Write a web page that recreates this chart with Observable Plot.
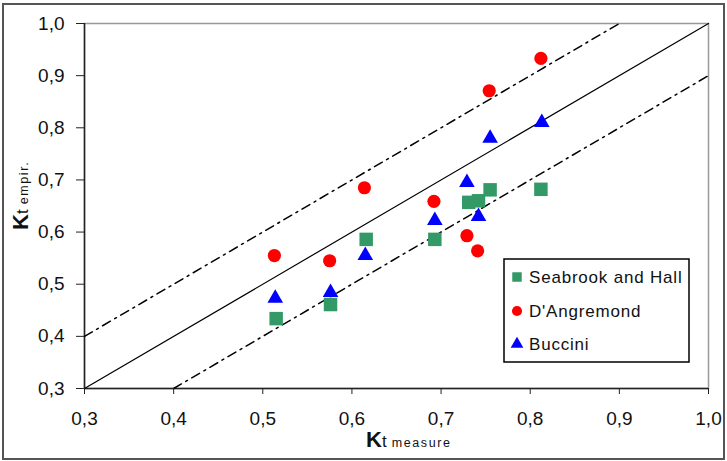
<!DOCTYPE html>
<html><head><meta charset="utf-8">
<script src="https://cdn.jsdelivr.net/npm/d3@7"></script>
<script src="https://cdn.jsdelivr.net/npm/@observablehq/plot@0.6"></script>
<style>
body{margin:0;background:#fff;}
#wrap{position:relative;width:727px;height:461px;overflow:hidden;}
#border{position:absolute;left:2px;top:3px;width:719px;height:453px;border:2px solid #555;pointer-events:none;}
</style></head><body>
<div id="wrap"><div id="chart"></div><div id="border"></div></div>
<script>
// Series data (Kt measure, Kt empir.)
const seabrookX = [0.515, 0.576, 0.616, 0.693, 0.731, 0.742, 0.755, 0.812];
const seabrookY = [0.434, 0.461, 0.586, 0.586, 0.657, 0.660, 0.681, 0.682];
const angremondX = [0.513, 0.575, 0.614, 0.692, 0.729, 0.741, 0.754, 0.812];
const angremondY = [0.555, 0.545, 0.685, 0.659, 0.593, 0.564, 0.871, 0.933];
const bucciniX = [0.514, 0.576, 0.615, 0.693, 0.729, 0.742, 0.755, 0.813];
const bucciniY = [0.473, 0.484, 0.555, 0.622, 0.695, 0.630, 0.780, 0.810];
const seriesNames = ["Seabrook and Hall", "D'Angremond", "Buccini"];
const seriesColors = ["#339966", "#ff0000", "#0000ff"];
const seriesSymbols = ["square", "circle", "triangle"];
const seriesSizes = [7.6, 6.6, 5.8];
// Reference lines: perfect agreement and +/- 0.1 band
const lineEqualX = [0.3, 1.0], lineEqualY = [0.3, 1.0];
const lineUpperX = [0.3, 0.9], lineUpperY = [0.4, 1.0];
const lineLowerX = [0.4, 1.0], lineLowerY = [0.3, 0.9];
const xTicks = [0.3, 0.4, 0.5, 0.6, 0.7, 0.8, 0.9, 1.0];
const yTicks = [0.3, 0.4, 0.5, 0.6, 0.7, 0.8, 0.9, 1.0];

const fmt = d => d.toFixed(1).replace(".", ",");
const pts = (xs, ys) => xs.map((x, i) => ({x, y: ys[i]}));
const series = [pts(seabrookX, seabrookY), pts(angremondX, angremondY), pts(bucciniX, bucciniY)];
const font = "'Liberation Sans', Arial, sans-serif";

const chart = Plot.plot({
  width: 727, height: 461,
  marginLeft: 84, marginRight: 19, marginTop: 23, marginBottom: 73,
  style: {fontFamily: font, fontSize: "19px", color: "#111", background: "transparent", overflow: "visible"},
  x: {domain: [0.3, 1.0]},
  y: {domain: [0.3, 1.0]},
  marks: [
    Plot.frame({stroke: "#999", strokeWidth: 1.5}),
    Plot.ruleX([0.3], {stroke: "#222", strokeWidth: 1.5}),
    Plot.ruleY([0.3], {stroke: "#222", strokeWidth: 1.5}),
    Plot.line(pts(lineEqualX, lineEqualY), {x: "x", y: "y", stroke: "#000", strokeWidth: 1.2}),
    Plot.line(pts(lineUpperX, lineUpperY), {x: "x", y: "y", stroke: "#000", strokeWidth: 1.5, strokeDasharray: "9,5,2,5"}),
    Plot.line(pts(lineLowerX, lineLowerY), {x: "x", y: "y", stroke: "#000", strokeWidth: 1.5, strokeDasharray: "9,5,2,5"}),
    ...series.map((s, i) => Plot.dot(s, {x: "x", y: "y", symbol: () => seriesSymbols[i], fill: seriesColors[i], stroke: "none", r: seriesSizes[i]})),
    Plot.axisX({ticks: xTicks, tickFormat: fmt, tickSize: 6, tickPadding: 17, label: null, stroke: "#222"}),
    Plot.axisY({ticks: yTicks, tickFormat: fmt, tickSize: 8, tickPadding: 12, label: null, stroke: "#222"})
  ]
});
document.getElementById("chart").appendChild(chart);

const svg = d3.select(chart);
// X axis title
const xt = svg.append("text").attr("x", 366).attr("y", 447).attr("text-anchor", "start").attr("font-family", font).attr("fill", "#111");
xt.append("tspan").attr("font-size", 22).attr("font-weight", "bold").text("K");
xt.append("tspan").attr("font-size", 17).text("t");
xt.append("tspan").attr("font-size", 12.5).attr("letter-spacing", 1.6).text(" measure");
// Y axis title
const yt = svg.append("text").attr("transform", "translate(28,230) rotate(-90)").attr("text-anchor", "start").attr("font-family", font).attr("fill", "#111");
yt.append("tspan").attr("font-size", 22).attr("font-weight", "bold").text("K");
yt.append("tspan").attr("font-size", 17).text("t");
yt.append("tspan").attr("font-size", 12.5).attr("letter-spacing", 1.6).text(" empir.");

// Legend
const lg = svg.append("g");
lg.append("rect").attr("x", 504).attr("y", 259).attr("width", 185).attr("height", 103)
  .attr("fill", "#fff").attr("stroke", "#000").attr("stroke-width", 1.5);
const rowY = [277, 311, 344];
seriesNames.forEach((name, i) => {
  const sym = d3.symbol().type(i === 0 ? d3.symbolSquare : i === 1 ? d3.symbolCircle : d3.symbolTriangle)
    .size(i === 0 ? 90 : i === 1 ? 80 : 70);
  lg.append("path").attr("d", sym()).attr("transform", `translate(517,${rowY[i]})`).attr("fill", seriesColors[i]);
  lg.append("text").attr("x", 529).attr("y", rowY[i]).attr("dy", "0.36em").attr("text-anchor", "start")
    .attr("font-family", font).attr("font-size", 17).attr("letter-spacing", 0.8).attr("fill", "#111").text(name);
});
</script>
</body></html>
